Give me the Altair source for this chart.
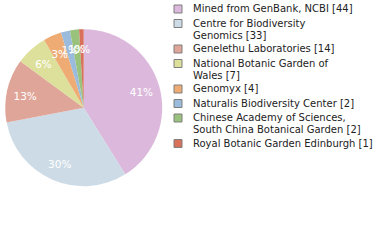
import altair as alt
import pandas as pd

names = [
    "Mined from GenBank, NCBI [44]",
    "Centre for Biodiversity|Genomics [33]",
    "Genelethu Laboratories [14]",
    "National Botanic Garden of|Wales [7]",
    "Genomyx [4]",
    "Naturalis Biodiversity Center [2]",
    "Chinese Academy of Sciences,|South China Botanical Garden [2]",
    "Royal Botanic Garden Edinburgh [1]",
]
counts = [44, 33, 14, 7, 4, 2, 2, 1]
pct_labels = ["41%", "30%", "13%", "6%", "3%", "1%", "1%", "0%"]
colors = ["#dcb9dc", "#cddbe6", "#dfa598", "#dde09b", "#eeab74",
          "#9bbbdc", "#99c37d", "#d9705a"]

df = pd.DataFrame({"name": names, "count": counts, "pct": pct_labels,
                   "idx": list(range(len(names)))})

cx, cy = 83.7, 107.7

base = alt.Chart(df).encode(
    theta=alt.Theta("count:Q", stack=True),
    order=alt.Order("idx:O"),
    color=alt.Color(
        "name:N",
        scale=alt.Scale(domain=names, range=colors),
        legend=alt.Legend(
            title=None, orient="none", legendX=173, legendY=4,
            symbolType="square", symbolSize=64,
            symbolStrokeColor="#7f7f7f", symbolStrokeWidth=1,
            symbolOpacity=1,
            labelFont="DejaVu Sans", labelFontSize=10, labelColor="#222222",
            labelLimit=300, labelOffset=10, rowPadding=2.5,
            labelExpr="split(datum.label, '|')",
        ),
    ),
)

arcs = base.mark_arc(outerRadius=78.5, stroke=None).encode(
    x=alt.value(cx), y=alt.value(cy)
)
texts = base.mark_text(radius=60, fill="white", font="DejaVu Sans",
                       fontSize=10.5, dy=2).encode(
    x=alt.value(cx), y=alt.value(cy), text="pct:N"
)

chart = (arcs + texts).properties(
    width=380, height=240, autosize=alt.AutoSizeParams(type="none"),
    padding=0,
).configure_view(stroke=None)

chart.save("out.html", embed_options={"renderer": "svg", "actions": False})
